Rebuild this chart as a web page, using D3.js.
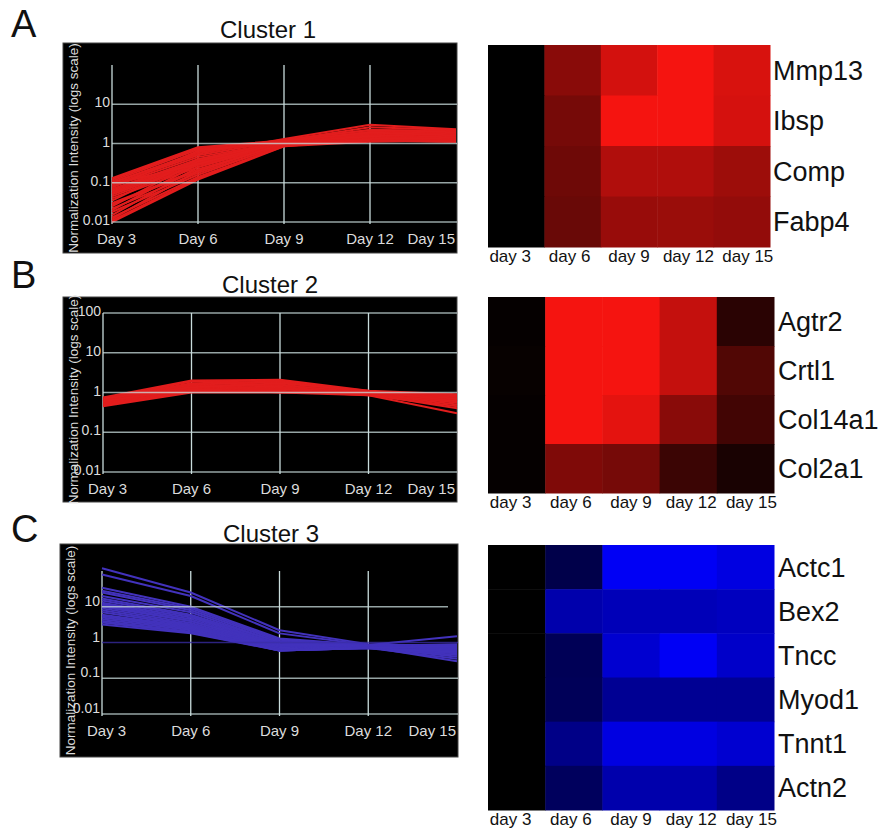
<!DOCTYPE html>
<html>
<head>
<meta charset="utf-8">
<script src="https://cdn.jsdelivr.net/npm/d3@7"></script>
<style>
  body { margin: 0; background: #fff; }
  svg { display: block; font-family: "Liberation Sans", Arial, sans-serif; }
</style>
</head>
<body>
<svg id="fig" width="893" height="831"></svg>
<script>
// time points for the profiles
var days = ["Day 3", "Day 6", "Day 9", "Day 12", "Day 15"];
var heatDays = ["day 3", "day 6", "day 9", "day 12", "day 15"];
var yTicks1 = [10, 1, 0.1, 0.01];
var yTicks2 = [100, 10, 1, 0.1, 0.01];
var yTicks3 = [10, 1, 0.1, 0.01];

// normalized intensity per gene
var cluster1 = [
  [0.13, 0.8, 1.2, 1.6, 1.5],
  [0.12, 0.75, 1.1, 1.5, 1.8],
  [0.11, 0.7, 1.0, 1.4, 1.6],
  [0.1, 0.55, 1.3, 3.0, 2.3],
  [0.09, 0.5, 1.2, 2.6, 2.2],
  [0.08, 0.45, 1.1, 2.0, 2.0],
  [0.07, 0.4, 1.0, 1.8, 1.9],
  [0.065, 0.38, 1.05, 1.7, 2.1],
  [0.06, 0.35, 0.95, 1.6, 1.7],
  [0.055, 0.33, 1.0, 1.5, 1.4],
  [0.05, 0.3, 1.1, 1.9, 2.0],
  [0.045, 0.28, 0.9, 1.3, 1.2],
  [0.04, 0.25, 1.0, 1.6, 1.8],
  [0.035, 0.4, 1.1, 1.4, 1.5],
  [0.03, 0.22, 0.95, 1.7, 1.9],
  [0.028, 0.2, 1.05, 1.2, 1.1],
  [0.025, 0.35, 1.2, 2.2, 2.1],
  [0.022, 0.18, 0.9, 1.5, 1.6],
  [0.02, 0.3, 1.0, 1.3, 1.3],
  [0.018, 0.16, 0.95, 1.8, 2.0],
  [0.015, 0.25, 1.15, 1.6, 1.7],
  [0.013, 0.14, 0.85, 1.1, 1.2],
  [0.012, 0.2, 1.0, 1.4, 1.5],
  [0.011, 0.13, 0.9, 1.2, 1.1],
  [0.01, 0.12, 0.85, 1.3, 1.4],
  [0.1, 0.6, 1.25, 2.2, 2.0],
  [0.09, 0.3, 1.1, 1.5, 1.9],
  [0.075, 0.65, 1.15, 1.9, 1.6]
];
var cluster2 = [
  [0.75, 2.0, 2.1, 1.1, 0.9],
  [0.7, 1.9, 2.0, 1.05, 0.85],
  [0.68, 1.7, 1.9, 1.0, 0.8],
  [0.65, 1.6, 1.8, 1.0, 0.75],
  [0.62, 1.5, 1.6, 0.95, 0.7],
  [0.6, 1.4, 1.5, 1.0, 0.65],
  [0.58, 1.3, 1.4, 0.9, 0.6],
  [0.55, 1.2, 1.3, 0.95, 0.55],
  [0.52, 1.15, 1.2, 0.9, 0.5],
  [0.5, 1.1, 1.1, 0.85, 0.45],
  [0.48, 1.05, 1.05, 0.9, 0.4],
  [0.45, 1.0, 1.0, 0.85, 0.3],
  [0.6, 1.25, 1.0, 1.0, 0.7],
  [0.7, 1.35, 1.7, 1.1, 0.6]
];
var cluster3 = [
  [120, 25, 2.2, 0.9, 0.8],
  [80, 20, 1.8, 0.85, 0.7],
  [34, 10, 1.3, 0.85, 1.5],
  [28, 9, 1.2, 0.8, 0.9],
  [25, 8, 1.1, 0.85, 0.8],
  [20, 7, 1.0, 0.8, 0.75],
  [17, 6, 1.0, 0.8, 0.7],
  [15, 5.5, 0.9, 0.75, 0.65],
  [13, 5, 0.9, 0.8, 0.6],
  [12, 4.5, 0.85, 0.75, 0.55],
  [11, 4, 0.8, 0.8, 0.7],
  [10, 4, 0.8, 0.75, 0.5],
  [9, 3.5, 0.75, 0.7, 0.45],
  [8, 3.2, 0.7, 0.75, 0.4],
  [7, 3, 0.7, 0.7, 0.65],
  [6, 2.8, 0.65, 0.7, 0.35],
  [5.5, 2.6, 0.65, 0.75, 0.3],
  [5, 2.4, 0.6, 0.7, 0.6],
  [4.5, 2.2, 0.6, 0.7, 0.5],
  [4, 2.0, 0.65, 0.75, 0.7],
  [3.6, 1.9, 0.6, 0.7, 0.55],
  [3.2, 1.8, 0.6, 0.7, 0.8]
];

// heatmap genes and relative expression (0 = black, 1 = full colour)
var genesA = ["Mmp13", "Ibsp", "Comp", "Fabp4"];
var heatA = [
  [0, 0.56, 0.86, 1.0, 0.88],
  [0, 0.48, 1.0, 1.0, 0.87],
  [0, 0.45, 0.72, 0.72, 0.64],
  [0, 0.43, 0.62, 0.63, 0.6]
];
var genesB = ["Agtr2", "Crtl1", "Col14a1", "Col2a1"];
var heatB = [
  [0.02, 1.0, 1.0, 0.8, 0.17],
  [0.03, 1.0, 1.0, 0.8, 0.33],
  [0.02, 1.0, 0.93, 0.56, 0.27],
  [0.02, 0.52, 0.48, 0.24, 0.1]
];
var genesC = ["Actc1", "Bex2", "Tncc", "Myod1", "Tnnt1", "Actn2"];
var heatC = [
  [0, 0.3, 1.0, 1.0, 0.92],
  [0, 0.7, 0.75, 0.75, 0.78],
  [0, 0.35, 0.85, 1.0, 0.82],
  [0, 0.36, 0.6, 0.6, 0.6],
  [0, 0.55, 0.92, 0.92, 0.85],
  [0, 0.38, 0.7, 0.7, 0.55]
];

var svg = d3.select("#fig");
var gridColor = "#c9dcdc";
var tickColor = "#dcdcdc";

function profilePlot(cfg) {
  var g = svg.append("g");

  g.append("text")
    .attr("x", cfg.letterX).attr("y", cfg.letterY)
    .attr("font-size", 38).attr("fill", "#111")
    .text(cfg.letter);

  g.append("text")
    .attr("x", cfg.titleX).attr("y", cfg.titleY)
    .attr("text-anchor", "middle")
    .attr("font-size", 24).attr("fill", "#111")
    .text(cfg.title);

  g.append("rect")
    .attr("x", cfg.box[0]).attr("y", cfg.box[1])
    .attr("width", cfg.box[2] - cfg.box[0]).attr("height", cfg.box[3] - cfg.box[1])
    .attr("fill", "#000").attr("stroke", "#444").attr("stroke-width", 1);

  var x = d3.scalePoint().domain(days).range(cfg.xRange);
  var y = d3.scaleLog().domain([0.01, 100]).range(cfg.yRange);
  var right = cfg.box[2];

  var line = d3.line()
    .x(function (d, i) { return x(days[i]); })
    .y(function (d) { return y(d); });

  // vertical grid
  g.selectAll("line.vg")
    .data(days.slice(0, 4))
    .enter().append("line")
    .attr("x1", function (d) { return x(d); })
    .attr("x2", function (d) { return x(d); })
    .attr("y1", y(100)).attr("y2", y(0.01) + 2)
    .attr("stroke", gridColor).attr("stroke-width", 1.3);

  g.append("g").selectAll("path")
    .data(cfg.data)
    .enter().append("path")
    .attr("d", line)
    .attr("fill", "none")
    .attr("stroke", cfg.color)
    .attr("stroke-width", 2)
    .attr("stroke-linejoin", "round");

  // horizontal grid sits over the profiles
  g.selectAll("line.hg")
    .data(cfg.ticks)
    .enter().append("line")
    .attr("x1", x(days[0])).attr("x2", function (d) { return d === 10 && cfg.short10 ? right - 10 : right; })
    .attr("y1", function (d) { return y(d); })
    .attr("y2", function (d) { return y(d); })
    .attr("stroke", function (d) { return d === 1 && cfg.oneColor ? cfg.oneColor : gridColor; })
    .attr("stroke-width", 1.3)
    .attr("opacity", 0.75);

  g.selectAll("text.tick")
    .data(cfg.ticks)
    .enter().append("text")
    .attr("x", x(days[0]) - 2)
    .attr("y", function (d) { return y(d) + cfg.tickDy; })
    .attr("text-anchor", "end")
    .attr("font-size", 14).attr("fill", tickColor)
    .text(function (d) { return d; });

  g.selectAll("text.day")
    .data(days)
    .enter().append("text")
    .attr("x", function (d, i) {
      if (i === 0) return x(d) - 15;
      if (i === days.length - 1) return right - 2;
      return x(d);
    })
    .attr("y", y(0.01) + 22)
    .attr("text-anchor", function (d, i) {
      return i === 0 ? "start" : (i === days.length - 1 ? "end" : "middle");
    })
    .attr("font-size", 15).attr("fill", tickColor)
    .text(function (d) { return d; });

  g.append("text")
    .attr("transform", "translate(" + cfg.labelX + "," + ((cfg.box[1] + cfg.box[3]) / 2) + ") rotate(-90)")
    .attr("text-anchor", "middle")
    .attr("font-size", 13.5).attr("fill", tickColor)
    .text("Normalization Intensity (logs scale)");
}

function heatmap(cfg) {
  var g = svg.append("g");
  var x = d3.scaleBand().domain(heatDays).range([cfg.box[0], cfg.box[2]]);
  var y = d3.scaleBand().domain(cfg.genes).range([cfg.box[1], cfg.box[3]]);
  var color = d3.scaleLinear().domain([0, 1]).range(["#000000", cfg.color]);

  var rows = g.selectAll("g.row")
    .data(cfg.values)
    .enter().append("g");

  rows.selectAll("rect")
    .data(function (row, r) {
      return row.map(function (v, c) { return { gene: cfg.genes[r], day: heatDays[c], v: v }; });
    })
    .enter().append("rect")
    .attr("x", function (d) { return x(d.day); })
    .attr("y", function (d) { return y(d.gene); })
    .attr("width", x.bandwidth() + 0.5)
    .attr("height", y.bandwidth() + 0.5)
    .attr("fill", function (d) { return color(d.v); });

  g.selectAll("text.gene")
    .data(cfg.genes)
    .enter().append("text")
    .attr("x", cfg.box[2] + cfg.labelGap)
    .attr("y", function (d) { return y(d) + y.bandwidth() / 2 + 9.5; })
    .attr("font-size", 27).attr("fill", "#111")
    .text(function (d) { return d; });

  g.selectAll("text.day")
    .data(heatDays)
    .enter().append("text")
    .attr("x", function (d, i) { return x(d) + x.bandwidth() / 2 + (i - 2) * 3; })
    .attr("y", cfg.box[3] + 15)
    .attr("text-anchor", "middle")
    .attr("font-size", 17).attr("fill", "#111")
    .text(function (d) { return d; });
}

profilePlot({
  letter: "A", letterX: 11, letterY: 37,
  title: "Cluster 1", titleX: 268, titleY: 38,
  box: [63, 43, 457, 253],
  xRange: [112, 456], yRange: [222, 65],
  ticks: yTicks1, tickDy: 3, labelX: 78,
  data: cluster1, color: "#e21d1d"
});
profilePlot({
  letter: "B", letterX: 11, letterY: 288,
  title: "Cluster 2", titleX: 270, titleY: 293,
  box: [63, 297, 457, 502],
  xRange: [103, 457], yRange: [472, 313],
  ticks: yTicks2, tickDy: 3, labelX: 78,
  data: cluster2, color: "#e21d1d"
});
profilePlot({
  letter: "C", letterX: 11, letterY: 542,
  title: "Cluster 3", titleX: 271, titleY: 542,
  box: [60, 544, 458, 757],
  xRange: [102, 457], yRange: [714, 571],
  ticks: yTicks3, tickDy: -1, labelX: 75,
  data: cluster3, color: "#4232bc", oneColor: "#3b2ea8", short10: true
});

heatmap({ box: [488, 45, 770, 247], genes: genesA, values: heatA, color: "#f51410", labelGap: 3 });
heatmap({ box: [488, 297, 774, 493], genes: genesB, values: heatB, color: "#f51410", labelGap: 4 });
heatmap({ box: [488, 545, 774, 810], genes: genesC, values: heatC, color: "#0000f5", labelGap: 4 });
</script>
</body>
</html>
